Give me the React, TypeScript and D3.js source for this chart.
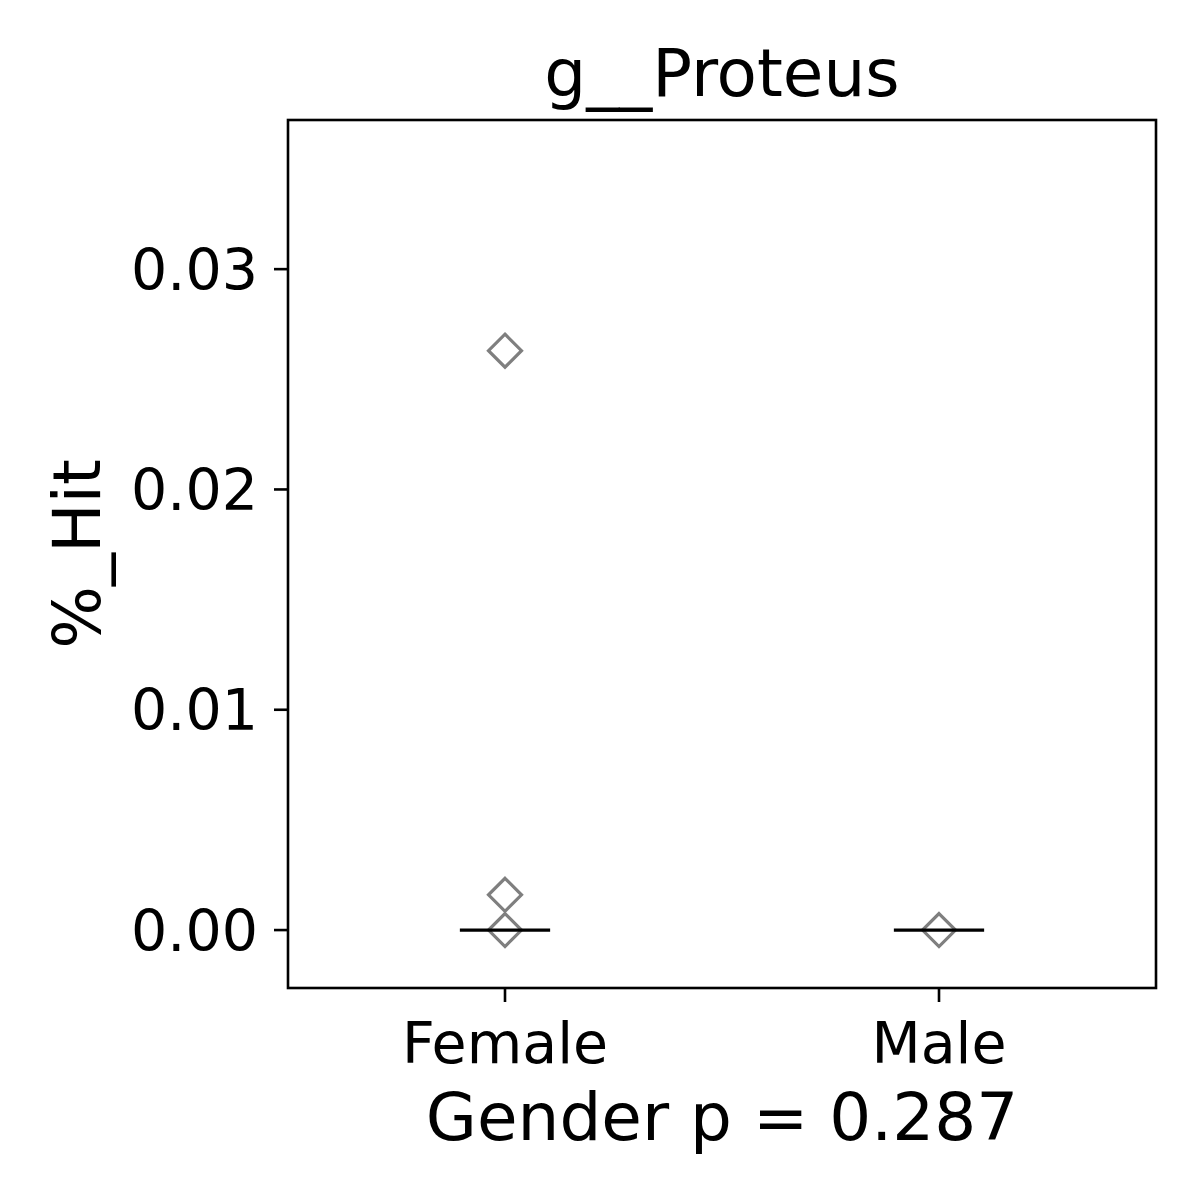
import React from "react";
import * as d3 from "d3";

// categories and observed values
const categories = ["Female", "Male"];
const femaleValues = [0.0263, 0.0016, 0.0];
const maleValues = [0.0];
const medians = [0.0, 0.0];
const yTicks = [0.0, 0.01, 0.02, 0.03];

const title = "g__Proteus";
const xLabel = "Gender p = 0.287";
const yLabel = "%_Hit";

const App = () => {
  const width = 1200;
  const height = 1200;
  const margin = { top: 120, right: 44, bottom: 212, left: 288 };
  const font = "DejaVu Sans, sans-serif";

  const x = d3
    .scaleLinear()
    .domain([-0.5, 1.5])
    .range([margin.left, width - margin.right]);

  const y = d3
    .scaleLinear()
    .domain([-0.00263, 0.03677])
    .range([height - margin.bottom, margin.top]);

  const points = [
    ...femaleValues.map((v) => ({ c: 0, v })),
    ...maleValues.map((v) => ({ c: 1, v })),
  ];

  const diamond = (cx: number, cy: number, r: number) =>
    `M${cx},${cy - r}L${cx + r},${cy}L${cx},${cy + r}L${cx - r},${cy}Z`;

  const fmt = d3.format(".2f");
  const plotBottom = height - margin.bottom;

  return (
    <svg
      width={width}
      height={height}
      style={{ display: "block", position: "absolute", left: 0, top: 0 }}
    >
      <rect width={width} height={height} fill="white" />

      {/* points */}
      {points.map((d, i) => (
        <path
          key={i}
          d={diamond(x(d.c), y(d.v), 16.5)}
          fill="none"
          stroke="#7f7f7f"
          strokeWidth={3.2}
        />
      ))}

      {/* median lines */}
      {medians.map((m, i) => (
        <line
          key={i}
          x1={x(i - 0.104)}
          x2={x(i + 0.104)}
          y1={y(m)}
          y2={y(m)}
          stroke="black"
          strokeWidth={3.2}
        />
      ))}

      {/* frame */}
      <rect
        x={margin.left}
        y={margin.top}
        width={width - margin.left - margin.right}
        height={plotBottom - margin.top}
        fill="none"
        stroke="black"
        strokeWidth={2.6}
      />

      {/* y axis */}
      {yTicks.map((t) => (
        <g key={t}>
          <line
            x1={margin.left - 14}
            x2={margin.left}
            y1={y(t)}
            y2={y(t)}
            stroke="black"
            strokeWidth={2.6}
          />
          <text
            x={margin.left - 30}
            y={y(t)}
            dy="0.36em"
            textAnchor="end"
            fontFamily={font}
            fontSize={57}
          >
            {fmt(t)}
          </text>
        </g>
      ))}

      {/* x axis */}
      {categories.map((c, i) => (
        <g key={c}>
          <line
            x1={x(i)}
            x2={x(i)}
            y1={plotBottom}
            y2={plotBottom + 14}
            stroke="black"
            strokeWidth={2.6}
          />
          <text
            x={x(i)}
            y={plotBottom + 75}
            textAnchor="middle"
            fontFamily={font}
            fontSize={57}
          >
            {c}
          </text>
        </g>
      ))}

      <text
        x={(margin.left + width - margin.right) / 2}
        y={1140}
        textAnchor="middle"
        fontFamily={font}
        fontSize={66}
      >
        {xLabel}
      </text>

      <text
        transform={`translate(100,${(margin.top + plotBottom) / 2}) rotate(-90)`}
        textAnchor="middle"
        fontFamily={font}
        fontSize={66}
      >
        {yLabel}
      </text>

      <text
        x={(margin.left + width - margin.right) / 2}
        y={96}
        textAnchor="middle"
        fontFamily={font}
        fontSize={66}
      >
        {title}
      </text>
    </svg>
  );
};

export default App;
